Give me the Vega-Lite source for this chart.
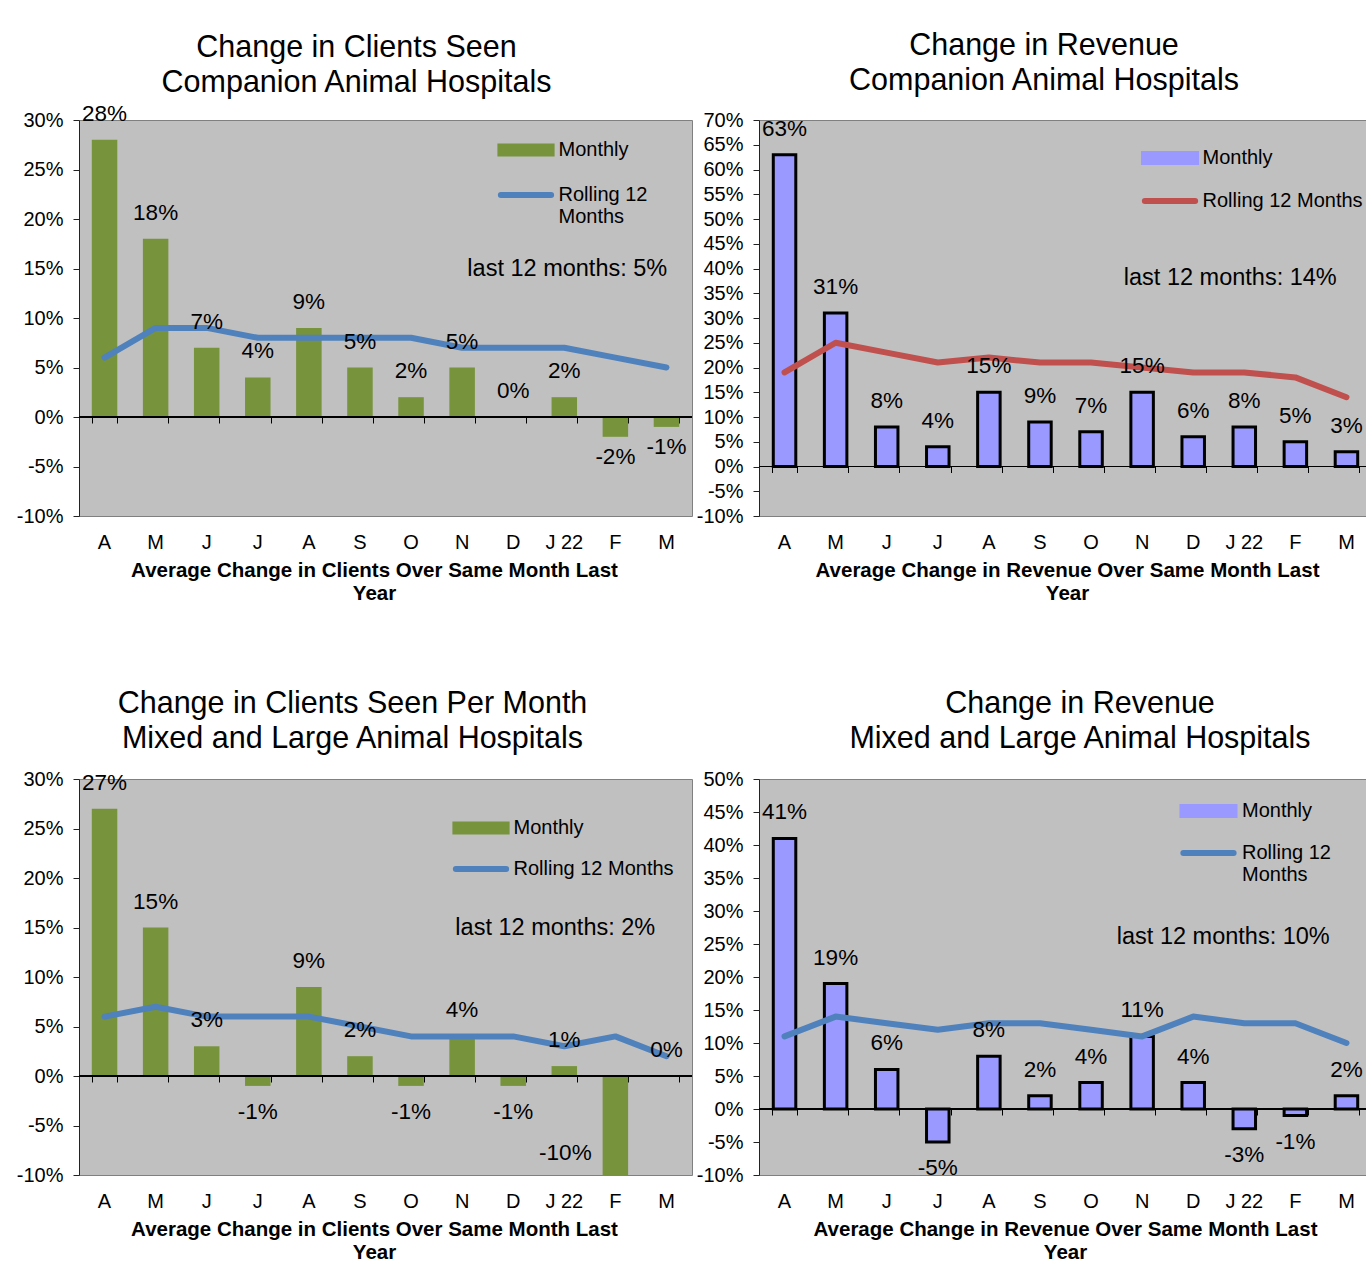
{
  "$schema": "https://vega.github.io/schema/vega-lite/v6.json",
  "background": "white",
  "padding": {"left": 15, "top": 30, "right": 0, "bottom": 0},
  "datasets": {
    "p1": [
      {"i":0,"m":28,"r":6,"lab":"28%"},{"i":1,"m":18,"r":9,"lab":"18%"},{"i":2,"m":7,"r":9,"lab":"7%"},{"i":3,"m":4,"r":8,"lab":"4%"},
      {"i":4,"m":9,"r":8,"lab":"9%"},{"i":5,"m":5,"r":8,"lab":"5%"},{"i":6,"m":2,"r":8,"lab":"2%"},{"i":7,"m":5,"r":7,"lab":"5%"},
      {"i":8,"m":0,"r":7,"lab":"0%"},{"i":9,"m":2,"r":7,"lab":"2%"},{"i":10,"m":-2,"r":6,"lab":"-2%"},{"i":11,"m":-1,"r":5,"lab":"-1%"}
    ],
    "p2": [
      {"i":0,"m":63,"r":19,"lab":"63%"},{"i":1,"m":31,"r":25,"lab":"31%"},{"i":2,"m":8,"r":23,"lab":"8%"},{"i":3,"m":4,"r":21,"lab":"4%"},
      {"i":4,"m":15,"r":22,"lab":"15%"},{"i":5,"m":9,"r":21,"lab":"9%"},{"i":6,"m":7,"r":21,"lab":"7%"},{"i":7,"m":15,"r":20,"lab":"15%"},
      {"i":8,"m":6,"r":19,"lab":"6%"},{"i":9,"m":8,"r":19,"lab":"8%"},{"i":10,"m":5,"r":18,"lab":"5%"},{"i":11,"m":3,"r":14,"lab":"3%"}
    ],
    "p3": [
      {"i":0,"m":27,"r":6,"lab":"27%"},{"i":1,"m":15,"r":7,"lab":"15%"},{"i":2,"m":3,"r":6,"lab":"3%"},{"i":3,"m":-1,"r":6,"lab":"-1%"},
      {"i":4,"m":9,"r":6,"lab":"9%"},{"i":5,"m":2,"r":5,"lab":"2%"},{"i":6,"m":-1,"r":4,"lab":"-1%"},{"i":7,"m":4,"r":4,"lab":"4%"},
      {"i":8,"m":-1,"r":4,"lab":"-1%"},{"i":9,"m":1,"r":3,"lab":"1%"},{"i":10,"m":-10,"r":4,"lab":"-10%"},{"i":11,"m":0,"r":2,"lab":"0%"}
    ],
    "p4": [
      {"i":0,"m":41,"r":11,"lab":"41%"},{"i":1,"m":19,"r":14,"lab":"19%"},{"i":2,"m":6,"r":13,"lab":"6%"},{"i":3,"m":-5,"r":12,"lab":"-5%"},
      {"i":4,"m":8,"r":13,"lab":"8%"},{"i":5,"m":2,"r":13,"lab":"2%"},{"i":6,"m":4,"r":12,"lab":"4%"},{"i":7,"m":11,"r":11,"lab":"11%"},
      {"i":8,"m":4,"r":14,"lab":"4%"},{"i":9,"m":-3,"r":13,"lab":"-3%"},{"i":10,"m":-1,"r":13,"lab":"-1%"},{"i":11,"m":2,"r":10,"lab":"2%"}
    ]
  },
  "concat": [
    {
      "width": 613, "height": 396,
      "title": {"text": ["Change in Clients Seen", "Companion Animal Hospitals"], "dx": -29, "offset": 4},
      "data": {"name": "p1"},
      "layer": [
        {
          "mark": {"type": "bar", "width": 25.5},
          "encoding": {
            "x": {"field": "i", "type": "ordinal", "scale": {"paddingInner": 0.5, "paddingOuter": 0.25},
                  "axis": {"title": ["Average Change in Clients Over Same Month Last", "Year"], "titleX": 295}},
            "y": {"field": "m", "type": "quantitative", "title": null, "scale": {"domain": [-10, 30], "nice": false, "zero": false},
                  "axis": {"values": [-10,-5,0,5,10,15,20,25,30]}},
            "color": {"datum": "Monthly", "type": "nominal",
                      "scale": {"domain": ["Monthly", "Rolling 12 Months"], "range": ["#77933C", "#4F81BD"]},
                      "legend": {"orient": "none", "legendX": 437, "legendY": 20, "labelOffset": 22.5, "rowPadding": 23,
                                 "labelExpr": "datum.label == 'Rolling 12 Months' ? ['Rolling 12', 'Months'] : datum.label",
                                 "encode": {"symbols": {"update": {
                                   "shape": {"signal": "datum.label == 'Monthly' ? 'M-1.33,-0.3H1.33V0.3H-1.33Z' : 'M-1.17,0H1.17'"},
                                   "fill": {"signal": "datum.label == 'Monthly' ? '#77933C' : 'transparent'"},
                                   "stroke": {"signal": "datum.label == 'Monthly' ? 'transparent' : '#4F81BD'"},
                                   "strokeWidth": {"signal": "datum.label == 'Monthly' ? 0 : 6"},
                                   "strokeCap": {"value": "round"}, "opacity": {"value": 1}}}}}}
          }
        },
        {"mark": {"type": "rule", "color": "black", "strokeWidth": 1}, "encoding": {"y": {"datum": 0, "type": "quantitative", "axis": {"values": [-10,-5,0,5,10,15,20,25,30]}}}},
        {
          "mark": {"type": "line", "strokeWidth": 6, "strokeCap": "round", "strokeJoin": "round"},
          "encoding": {
            "x": {"field": "i", "type": "ordinal", "axis": {"orient": "bottom", "offset": -99, "labels": false, "title": null, "domain": false, "ticks": true, "tickSize": 6, "tickColor": "black", "tickBand": "extent"}},
            "y": {"field": "r", "type": "quantitative", "title": null, "axis": {"values": [-10,-5,0,5,10,15,20,25,30]}},
            "color": {"datum": "Rolling 12 Months", "type": "nominal"}
          }
        },
        {
          "transform": [{"filter": "datum.m >= 0"}],
          "mark": {"type": "text", "dy": -26},
          "encoding": {"x": {"field": "i", "type": "ordinal", "axis": null}, "y": {"field": "m", "type": "quantitative", "title": null, "axis": {"values": [-10,-5,0,5,10,15,20,25,30]}}, "text": {"field": "lab"}}
        },
        {
          "transform": [{"filter": "datum.m < 0"}],
          "mark": {"type": "text", "dy": 20},
          "encoding": {"x": {"field": "i", "type": "ordinal", "axis": null}, "y": {"field": "m", "type": "quantitative", "title": null, "axis": {"values": [-10,-5,0,5,10,15,20,25,30]}}, "text": {"field": "lab"}}
        },
        {
          "data": {"values": [{"note": "last 12 months: 5%"}]},
          "mark": {"type": "text", "fontSize": 23.5, "dx": 3},
          "encoding": {"x": {"datum": 9, "type": "ordinal", "axis": null}, "y": {"datum": 15, "type": "quantitative", "axis": {"values": [-10,-5,0,5,10,15,20,25,30]}}, "text": {"field": "note"}}
        }
      ],
      "resolve": {"axis": {"x": "independent"}}
    },
    {
      "width": 613, "height": 396,
      "title": {"text": ["Change in Revenue", "Companion Animal Hospitals"], "dx": -21.5, "offset": 14},
      "data": {"name": "p2"},
      "layer": [
        {
          "mark": {"type": "bar", "width": 22.5},
          "encoding": {
            "x": {"field": "i", "type": "ordinal", "scale": {"paddingInner": 0.5, "paddingOuter": 0.25},
                  "axis": {"title": ["Average Change in Revenue Over Same Month Last", "Year"], "titleX": 308}},
            "y": {"field": "m", "type": "quantitative", "title": null, "scale": {"domain": [-10, 70], "nice": false, "zero": false},
                  "axis": {"values": [-10,-5,0,5,10,15,20,25,30,35,40,45,50,55,60,65,70]}},
            "color": {"datum": "Monthly", "type": "nominal",
                      "scale": {"domain": ["Monthly", "Rolling 12 Months"], "range": ["#9999FF", "#C0504D"]},
                      "legend": {"orient": "none", "legendX": 401, "legendY": 28, "labelOffset": 22.5, "rowPadding": 19,
                                 "encode": {"symbols": {"update": {
                                   "shape": {"signal": "datum.label == 'Monthly' ? 'M-1.28,-0.26H1.28V0.26H-1.28Z' : 'M-1.17,0H1.17'"},
                                   "fill": {"signal": "datum.label == 'Monthly' ? '#9999FF' : 'transparent'"},
                                   "strokeWidth": {"signal": "datum.label == 'Monthly' ? 3 : 6"},
                                   "strokeCap": {"value": "round"}, "opacity": {"value": 1}}}}}}
          }
        },
        {
          "mark": {"type": "bar", "width": 22.5, "filled": false, "stroke": "black", "strokeWidth": 3},
          "encoding": {
            "x": {"field": "i", "type": "ordinal", "axis": null},
            "y": {"field": "m", "type": "quantitative", "title": null, "axis": {"values": [-10,-5,0,5,10,15,20,25,30,35,40,45,50,55,60,65,70]}}
          }
        },
        {"mark": {"type": "rule", "color": "black", "strokeWidth": 1}, "encoding": {"y": {"datum": 0, "type": "quantitative", "axis": {"values": [-10,-5,0,5,10,15,20,25,30,35,40,45,50,55,60,65,70]}}}},
        {
          "mark": {"type": "line", "strokeWidth": 6, "strokeCap": "round", "strokeJoin": "round"},
          "encoding": {
            "x": {"field": "i", "type": "ordinal", "axis": {"orient": "bottom", "offset": -49.5, "labels": false, "title": null, "domain": false, "ticks": true, "tickSize": 6, "tickColor": "black", "tickBand": "extent"}},
            "y": {"field": "r", "type": "quantitative", "title": null, "axis": {"values": [-10,-5,0,5,10,15,20,25,30,35,40,45,50,55,60,65,70]}},
            "color": {"datum": "Rolling 12 Months", "type": "nominal"}
          }
        },
        {
          "transform": [{"filter": "datum.m >= 0"}],
          "mark": {"type": "text", "dy": -26},
          "encoding": {"x": {"field": "i", "type": "ordinal", "axis": null}, "y": {"field": "m", "type": "quantitative", "title": null, "axis": {"values": [-10,-5,0,5,10,15,20,25,30,35,40,45,50,55,60,65,70]}}, "text": {"field": "lab"}}
        },
        {
          "data": {"values": [{"note": "last 12 months: 14%"}]},
          "mark": {"type": "text", "fontSize": 23.5, "dx": -14},
          "encoding": {"x": {"datum": 9, "type": "ordinal", "axis": null}, "y": {"datum": 38, "type": "quantitative", "axis": {"values": [-10,-5,0,5,10,15,20,25,30,35,40,45,50,55,60,65,70]}}, "text": {"field": "note"}}
        }
      ],
      "resolve": {"axis": {"x": "independent"}}
    },
    {
      "width": 613, "height": 396,
      "title": {"text": ["Change in Clients Seen Per Month", "Mixed and Large Animal Hospitals"], "dx": -33, "offset": 15},
      "data": {"name": "p3"},
      "layer": [
        {
          "mark": {"type": "bar", "width": 25.5},
          "encoding": {
            "x": {"field": "i", "type": "ordinal", "scale": {"paddingInner": 0.5, "paddingOuter": 0.25},
                  "axis": {"title": ["Average Change in Clients Over Same Month Last", "Year"], "titleX": 295}},
            "y": {"field": "m", "type": "quantitative", "title": null, "scale": {"domain": [-10, 30], "nice": false, "zero": false},
                  "axis": {"values": [-10,-5,0,5,10,15,20,25,30]}},
            "color": {"datum": "Monthly", "type": "nominal",
                      "scale": {"domain": ["Monthly", "Rolling 12 Months"], "range": ["#77933C", "#4F81BD"]},
                      "legend": {"orient": "none", "legendX": 392, "legendY": 39, "labelOffset": 22.5, "rowPadding": 19,
                                 "encode": {"symbols": {"update": {
                                   "shape": {"signal": "datum.label == 'Monthly' ? 'M-1.33,-0.3H1.33V0.3H-1.33Z' : 'M-1.17,0H1.17'"},
                                   "fill": {"signal": "datum.label == 'Monthly' ? '#77933C' : 'transparent'"},
                                   "stroke": {"signal": "datum.label == 'Monthly' ? 'transparent' : '#4F81BD'"},
                                   "strokeWidth": {"signal": "datum.label == 'Monthly' ? 0 : 6"},
                                   "strokeCap": {"value": "round"}, "opacity": {"value": 1}}}}}}
          }
        },
        {"mark": {"type": "rule", "color": "black", "strokeWidth": 1}, "encoding": {"y": {"datum": 0, "type": "quantitative", "axis": {"values": [-10,-5,0,5,10,15,20,25,30]}}}},
        {
          "mark": {"type": "line", "strokeWidth": 6, "strokeCap": "round", "strokeJoin": "round"},
          "encoding": {
            "x": {"field": "i", "type": "ordinal", "axis": {"orient": "bottom", "offset": -99, "labels": false, "title": null, "domain": false, "ticks": true, "tickSize": 6, "tickColor": "black", "tickBand": "extent"}},
            "y": {"field": "r", "type": "quantitative", "title": null, "axis": {"values": [-10,-5,0,5,10,15,20,25,30]}},
            "color": {"datum": "Rolling 12 Months", "type": "nominal"}
          }
        },
        {
          "transform": [{"filter": "datum.m >= 0"}],
          "mark": {"type": "text", "dy": -26},
          "encoding": {"x": {"field": "i", "type": "ordinal", "axis": null}, "y": {"field": "m", "type": "quantitative", "title": null, "axis": {"values": [-10,-5,0,5,10,15,20,25,30]}}, "text": {"field": "lab"}}
        },
        {
          "transform": [{"filter": "datum.m < 0 && datum.m > -10"}],
          "mark": {"type": "text", "dy": 26},
          "encoding": {"x": {"field": "i", "type": "ordinal", "axis": null}, "y": {"field": "m", "type": "quantitative", "title": null, "axis": {"values": [-10,-5,0,5,10,15,20,25,30]}}, "text": {"field": "lab"}}
        },
        {
          "transform": [{"filter": "datum.m <= -10"}],
          "mark": {"type": "text", "dy": -22, "dx": -50},
          "encoding": {"x": {"field": "i", "type": "ordinal", "axis": null}, "y": {"field": "m", "type": "quantitative", "title": null, "axis": {"values": [-10,-5,0,5,10,15,20,25,30]}}, "text": {"field": "lab"}}
        },
        {
          "data": {"values": [{"note": "last 12 months: 2%"}]},
          "mark": {"type": "text", "fontSize": 23.5, "dx": -9},
          "encoding": {"x": {"datum": 9, "type": "ordinal", "axis": null}, "y": {"datum": 15, "type": "quantitative", "axis": {"values": [-10,-5,0,5,10,15,20,25,30]}}, "text": {"field": "note"}}
        }
      ],
      "resolve": {"axis": {"x": "independent"}}
    },
    {
      "width": 613, "height": 396,
      "title": {"text": ["Change in Revenue", "Mixed and Large Animal Hospitals"], "dx": 14.5, "offset": 15},
      "data": {"name": "p4"},
      "layer": [
        {
          "mark": {"type": "bar", "width": 22.5},
          "encoding": {
            "x": {"field": "i", "type": "ordinal", "scale": {"paddingInner": 0.5, "paddingOuter": 0.25},
                  "axis": {"title": ["Average Change in Revenue Over Same Month Last", "Year"], "titleX": 306}},
            "y": {"field": "m", "type": "quantitative", "title": null, "scale": {"domain": [-10, 50], "nice": false, "zero": false},
                  "axis": {"values": [-10,-5,0,5,10,15,20,25,30,35,40,45,50]}},
            "color": {"datum": "Monthly", "type": "nominal",
                      "scale": {"domain": ["Monthly", "Rolling 12 Months"], "range": ["#9999FF", "#4F81BD"]},
                      "legend": {"orient": "none", "legendX": 439.5, "legendY": 22, "labelOffset": 23.5, "rowPadding": 18,
                                 "labelExpr": "datum.label == 'Rolling 12 Months' ? ['Rolling 12', 'Months'] : datum.label",
                                 "encode": {"symbols": {"update": {
                                   "shape": {"signal": "datum.label == 'Monthly' ? 'M-1.28,-0.26H1.28V0.26H-1.28Z' : 'M-1.17,0H1.17'"},
                                   "fill": {"signal": "datum.label == 'Monthly' ? '#9999FF' : 'transparent'"},
                                   "strokeWidth": {"signal": "datum.label == 'Monthly' ? 3 : 6"},
                                   "strokeCap": {"value": "round"}, "opacity": {"value": 1}}}}}}
          }
        },
        {
          "mark": {"type": "bar", "width": 22.5, "filled": false, "stroke": "black", "strokeWidth": 3},
          "encoding": {
            "x": {"field": "i", "type": "ordinal", "axis": null},
            "y": {"field": "m", "type": "quantitative", "title": null, "axis": {"values": [-10,-5,0,5,10,15,20,25,30,35,40,45,50]}}
          }
        },
        {"mark": {"type": "rule", "color": "black", "strokeWidth": 1}, "encoding": {"y": {"datum": 0, "type": "quantitative", "axis": {"values": [-10,-5,0,5,10,15,20,25,30,35,40,45,50]}}}},
        {
          "mark": {"type": "line", "strokeWidth": 6, "strokeCap": "round", "strokeJoin": "round"},
          "encoding": {
            "x": {"field": "i", "type": "ordinal", "axis": {"orient": "bottom", "offset": -66, "labels": false, "title": null, "domain": false, "ticks": true, "tickSize": 6, "tickColor": "black", "tickBand": "extent"}},
            "y": {"field": "r", "type": "quantitative", "title": null, "axis": {"values": [-10,-5,0,5,10,15,20,25,30,35,40,45,50]}},
            "color": {"datum": "Rolling 12 Months", "type": "nominal"}
          }
        },
        {
          "transform": [{"filter": "datum.m >= 0"}],
          "mark": {"type": "text", "dy": -26},
          "encoding": {"x": {"field": "i", "type": "ordinal", "axis": null}, "y": {"field": "m", "type": "quantitative", "title": null, "axis": {"values": [-10,-5,0,5,10,15,20,25,30,35,40,45,50]}}, "text": {"field": "lab"}}
        },
        {
          "transform": [{"filter": "datum.m < 0"}],
          "mark": {"type": "text", "dy": 26},
          "encoding": {"x": {"field": "i", "type": "ordinal", "axis": null}, "y": {"field": "m", "type": "quantitative", "title": null, "axis": {"values": [-10,-5,0,5,10,15,20,25,30,35,40,45,50]}}, "text": {"field": "lab"}}
        },
        {
          "data": {"values": [{"note": "last 12 months: 10%"}]},
          "mark": {"type": "text", "fontSize": 23.5, "dx": -21},
          "encoding": {"x": {"datum": 9, "type": "ordinal", "axis": null}, "y": {"datum": 26, "type": "quantitative", "axis": {"values": [-10,-5,0,5,10,15,20,25,30,35,40,45,50]}}, "text": {"field": "note"}}
        }
      ],
      "resolve": {"axis": {"x": "independent"}}
    }
  ],
  "columns": 2,
  "spacing": {"row": 84, "column": 2},
  "resolve": {
    "scale": {"x": "independent", "y": "independent", "color": "independent"},
    "axis": {"x": "independent", "y": "independent"},
    "legend": {"color": "independent"}
  },
  "config": {
    "font": "Liberation Sans",
    "view": {"fill": "#C0C0C0", "stroke": "#808080", "strokeWidth": 1},
    "title": {"font": "Liberation Sans", "fontSize": 30.5, "fontWeight": "normal", "lineHeight": 35, "color": "black", "anchor": "middle", "frame": "group"},
    "text": {"font": "Liberation Sans", "fontSize": 22.5, "color": "black"},
    "axis": {"grid": false, "labelFont": "Liberation Sans", "titleFont": "Liberation Sans", "labelColor": "black", "titleColor": "black"},
    "axisY": {"labelFontSize": 20, "labelExpr": "datum.value + '%'", "domainColor": "#222", "tickColor": "#222", "tickSize": 6, "labelPadding": 10, "title": null},
    "axisX": {"labelFontSize": 20, "labelAngle": 0, "domain": false, "ticks": false, "labelPadding": 16,
              "labelExpr": "['A','M','J','J','A','S','O','N','D','J 22','F','M'][datum.value]",
              "titleFontSize": 20.5, "titleFontWeight": "bold", "titleLineHeight": 23, "titlePadding": 8},
    "legend": {"title": null, "labelFont": "Liberation Sans", "labelFontSize": 20, "labelColor": "black", "labelLimit": 400, "symbolSize": 1849, "padding": 0}
  }
}
